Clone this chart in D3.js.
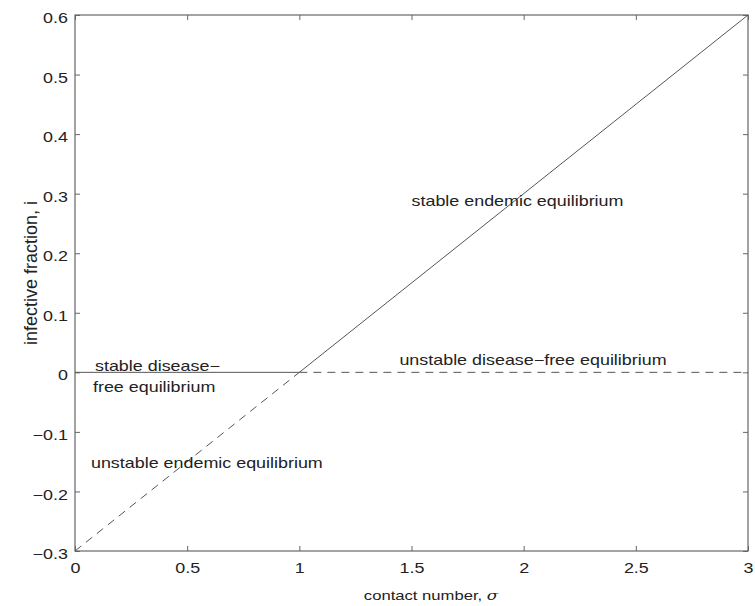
<!DOCTYPE html>
<html>
<head>
<meta charset="utf-8">
<script src="https://cdn.jsdelivr.net/npm/d3@7"></script>
<style>
  body { margin: 0; background: #fff; }
  text { font-family: "Liberation Sans", Arial, sans-serif; fill: #222; }
</style>
</head>
<body>
<div id="chart"></div>
<script>
// Axis ticks
const xTicks = [0, 0.5, 1, 1.5, 2, 2.5, 3];
const yTicks = [-0.3, -0.2, -0.1, 0, 0.1, 0.2, 0.3, 0.4, 0.5, 0.6];

// Equilibrium branches [sigma, i]
const stableDiseaseFree = [[0, 0], [1, 0]];
const unstableDiseaseFree = [[1, 0], [3, 0]];
const stableEndemic = [[1, 0], [3, 0.6]];
const unstableEndemic = [[0, -0.3], [1, 0]];

// Region labels [sigma, i, text]
const labels = [
    [1.5, 0.279, 'stable endemic equilibrium'],
    [1.446, 0.012, 'unstable disease\u2212free equilibrium'],
    [0.089, 0.003, 'stable disease\u2212'],
    [0.08, -0.033, 'free equilibrium'],
    [0.071, -0.161, 'unstable endemic equilibrium']
];

const width = 755, height = 606;
const margin = { top: 15, right: 7, bottom: 55, left: 75 };
const w = width - margin.left - margin.right;
const h = height - margin.top - margin.bottom;
// the reference glyphs are stretched horizontally
const SX = 1.28;

const svg = d3.select('#chart').append('svg')
    .attr('width', width)
    .attr('height', height);

const g = svg.append('g')
    .attr('transform', `translate(${margin.left},${margin.top})`);

const x = d3.scaleLinear().domain([0, 3]).range([0, w]);
const y = d3.scaleLinear().domain([-0.3, 0.6]).range([h, 0]);

const fmt = d => d === 0 ? '0' : d3.format('.1f')(d).replace('-', '\u2212');
const xFmt = d => d3.format('~g')(d);
const axisColor = '#666';

function styleAxis(sel) {
    sel.select('.domain').remove();
    sel.selectAll('.tick line').attr('stroke', axisColor);
    sel.selectAll('.tick text')
        .attr('font-size', '14px')
        .attr('fill', '#222')
        .attr('transform', `scale(${SX},1)`);
}

// Inward ticks on all four sides
g.append('g').attr('transform', `translate(0,${h})`)
    .call(d3.axisBottom(x).tickValues(xTicks).tickFormat(xFmt).tickSizeInner(-5).tickPadding(12))
    .call(styleAxis);
g.append('g')
    .call(d3.axisTop(x).tickValues(xTicks).tickFormat('').tickSizeInner(-5))
    .call(styleAxis);
g.append('g')
    .call(d3.axisLeft(y).tickValues(yTicks).tickFormat(fmt).tickSizeInner(-5).tickPadding(5.5))
    .call(styleAxis)
    .call(s => s.selectAll('.tick text').attr('dy', '0.54em'));
g.append('g').attr('transform', `translate(${w},0)`)
    .call(d3.axisRight(y).tickValues(yTicks).tickFormat('').tickSizeInner(-5))
    .call(styleAxis);

g.append('rect')
    .attr('width', w).attr('height', h)
    .attr('fill', 'none').attr('stroke', axisColor).attr('stroke-width', 1.2);

const line = d3.line().x(d => x(d[0])).y(d => y(d[1]));
const lineColor = '#555';

[
    [stableDiseaseFree, null],
    [stableEndemic, null],
    [unstableDiseaseFree, '8,6'],
    [unstableEndemic, '8,6']
].forEach(([data, dash]) => {
    g.append('path')
        .datum(data)
        .attr('d', line)
        .attr('fill', 'none')
        .attr('stroke', lineColor)
        .attr('stroke-width', 1)
        .attr('stroke-dasharray', dash);
});

g.selectAll('.region-label')
    .data(labels)
    .enter().append('text')
    .attr('class', 'region-label')
    .attr('transform', d => `translate(${x(d[0])},${y(d[1])}) scale(${SX},1)`)
    .attr('font-size', '14px')
    .text(d => d[2]);

// Axis titles
svg.append('text')
    .attr('transform', `translate(431,600) scale(${SX},1)`)
    .attr('text-anchor', 'middle')
    .attr('font-size', '13px')
    .html('contact number, <tspan font-family="DejaVu Serif" font-style="italic">\u03c3</tspan>');

svg.append('text')
    .attr('transform', 'translate(37,273) rotate(-90)')
    .attr('text-anchor', 'middle')
    .attr('font-size', '18px')
    .text('infective fraction, i');
</script>
</body>
</html>
